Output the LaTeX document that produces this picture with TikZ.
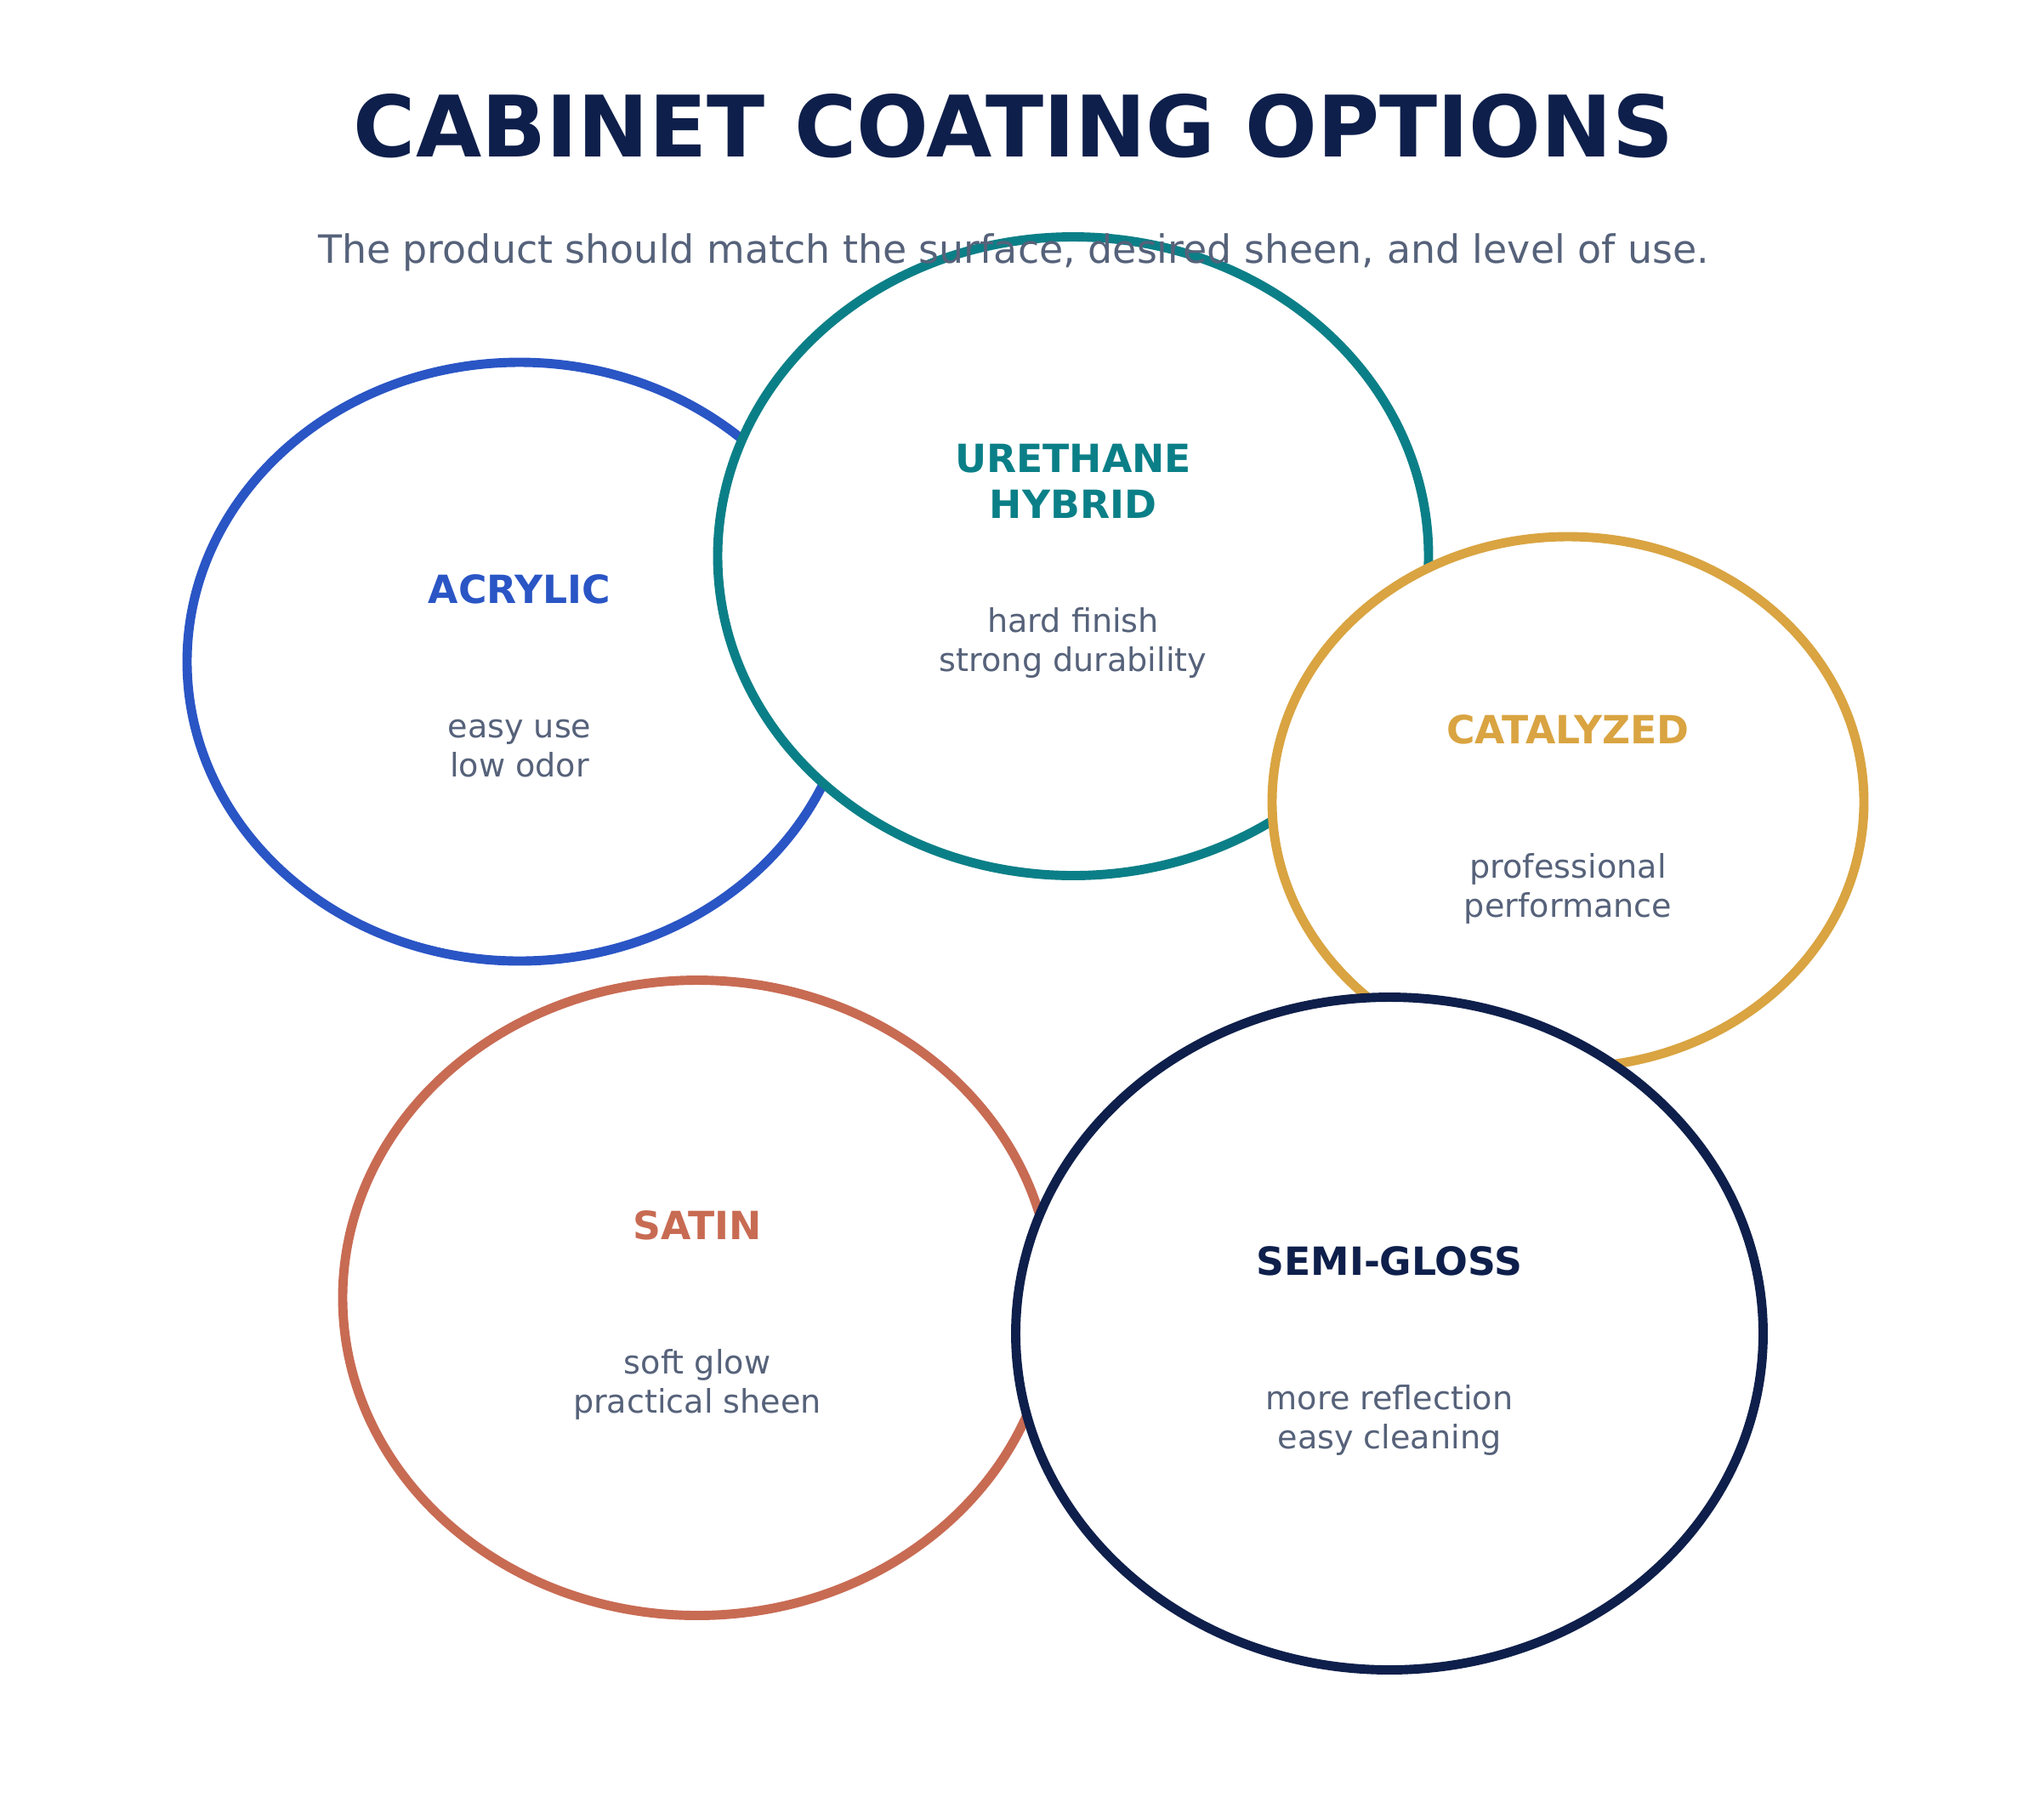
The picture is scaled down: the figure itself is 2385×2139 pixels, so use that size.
\documentclass[tikz,border=0pt]{standalone}
\usepackage{fontspec}
\setmainfont{DejaVu Sans}
\usetikzlibrary{shapes.geometric, positioning}

\definecolor{navy}{HTML}{0E1F4B}
\definecolor{slate}{HTML}{56627A}
\definecolor{acrylicblue}{HTML}{2A55C5}
\definecolor{urethaneteal}{HTML}{0B7F87}
\definecolor{catalyzedgold}{HTML}{D9A441}
\definecolor{satinclay}{HTML}{C86B53}

\begin{document}
\begin{tikzpicture}[
   x = 0.1mm, y = -0.1mm,
   coat/.style = {ellipse, draw=#1, line width=3.1pt, fill=white, inner sep=0pt},
   coatname/.style = {font=\fontsize{13}{15.5}\selectfont\bfseries, text=#1, align=center},
   coatnote/.style = {font=\fontsize{10.85}{13}\selectfont, text=slate, align=center}]
   \useasboundingbox[fill=white] (0,0) rectangle (2385,2139);

   \node[font=\fontsize{28.4}{34}\selectfont\bfseries, text=navy] (title) at (1192,148) {CABINET COATING OPTIONS};

   \node[coat=acrylicblue, minimum width=78.2mm, minimum height=70.4mm]  (acrylic) at (611,778) {};
   \node[coatname=acrylicblue, yshift=8.5mm] (acrylicname) at (acrylic.center) {ACRYLIC};
   \node[coatnote, yshift=-10.2mm] (acrylicnote) at (acrylic.center) {easy use\\low odor};

   \node[coat=urethaneteal, minimum width=83.6mm, minimum height=75.1mm]  (urethane) at (1262,654) {};
   \node[coatname=urethaneteal, yshift=8.8mm] (urethanename) at (urethane.center) {URETHANE\\HYBRID};
   \node[coatnote, yshift=-10.2mm] (urethanenote) at (urethane.center) {hard finish\\strong durability};

   \node[coat=catalyzedgold, minimum width=69.6mm, minimum height=62.4mm]  (catalyzed) at (1844,943) {};
   \node[coatname=catalyzedgold, yshift=8.5mm] (catalyzedname) at (catalyzed.center) {CATALYZED};
   \node[coatnote, yshift=-10.2mm] (catalyzednote) at (catalyzed.center) {professional\\performance};

   \node[coat=satinclay, minimum width=83.4mm, minimum height=74.7mm]  (satin) at (820,1526) {};
   \node[coatname=satinclay, yshift=8.5mm] (satinname) at (satin.center) {SATIN};
   \node[coatnote, yshift=-10.2mm] (satinnote) at (satin.center) {soft glow\\practical sheen};

   \node[coat=navy, minimum width=87.9mm, minimum height=79.1mm]  (semigloss) at (1634,1568) {};
   \node[coatname=navy, yshift=8.5mm] (semiglossname) at (semigloss.center) {SEMI-GLOSS};
   \node[coatnote, yshift=-10.2mm] (semiglossnote) at (semigloss.center) {more reflection\\easy cleaning};

   % subtitle last so it sits over the urethane ring
   \node[font=\fontsize{13.05}{15.5}\selectfont, text=slate] (subtitle) at (1192,297) {The product should match the surface, desired sheen, and level of use.};
\end{tikzpicture}
\end{document}
